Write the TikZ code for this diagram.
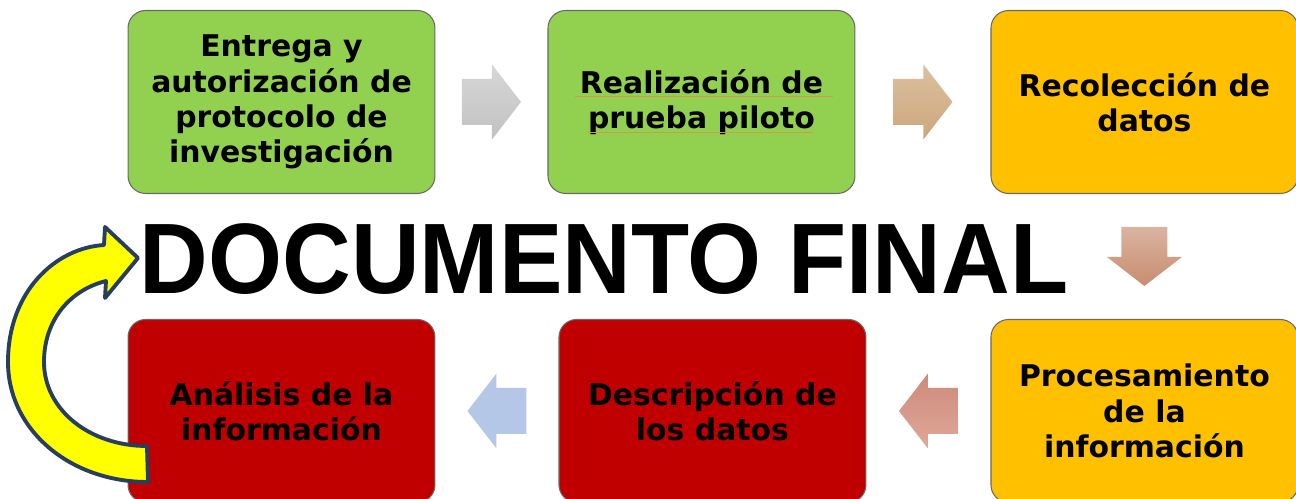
\documentclass[tikz,border=0pt]{standalone}
\usepackage{fontspec}
\setmainfont{DejaVu Sans}
\newfontfamily\titlefont{Liberation Sans}
\usetikzlibrary{
  calc,
  positioning
}
\definecolor{stepgreen}{RGB}{146,208,80}
\definecolor{stepyellow}{RGB}{255,192,0}
\definecolor{stepred}{RGB}{192,0,0}
\definecolor{stepedge}{RGB}{105,105,105}
\definecolor{loopyellow}{RGB}{255,255,0}
\definecolor{loopnavy}{RGB}{40,62,96}
\definecolor{spellline}{RGB}{215,150,80}
\definecolor{tanlight}{RGB}{220,192,160}
\definecolor{tandark}{RGB}{204,166,122}
\definecolor{clay}{RGB}{218,180,160}
\definecolor{claydark}{RGB}{200,140,112}
\definecolor{rose}{RGB}{222,168,152}
\definecolor{rosedark}{RGB}{206,138,122}
\definecolor{paleblue}{RGB}{180,199,231}
\tikzset{
  stepBox/.style={
    rectangle,
    rounded corners=10pt,
    draw=stepedge,
    line width=0.6pt,
    minimum width=6.14cm,
    minimum height=3.66cm,
    inner sep=0pt,
    align=center,
    font=\bfseries\fontsize{17}{20}\selectfont
  },
  blockArrow/.pic={
    \path[pic actions]
      (-29.5,-23) -- (0.5,-23) -- (0.5,-37.5) -- (29.5,0)
      -- (0.5,37.5) -- (0.5,23) -- (-29.5,23) -- cycle;
  },
  loopArrow/.style={
    fill=loopyellow,
    draw=loopnavy,
    line width=2.2pt,
    line join=round
  }
}

\begin{document}
\begin{tikzpicture}[x=0.02cm, y=-0.02cm]
  \useasboundingbox (0,0) rectangle (1296,499);

  \node[stepBox, fill=stepgreen] (entrega) at (281.5,102)
    {Entrega y\\autorización de\\protocolo de\\investigación};

  \node[stepBox, fill=stepgreen, right=2.24cm of entrega]
    (piloto) {Realización de\\prueba piloto};

  \node[stepBox, fill=stepyellow, right=2.7cm of piloto]
    (recoleccion) {Recolección de\\datos};

  \node[stepBox, fill=stepyellow, below=2.5cm of recoleccion]
    (procesamiento) {Procesamiento\\de la\\información};

  \node[stepBox, fill=stepred, left=2.48cm of procesamiento]
    (descripcion) {Descripción de\\los datos};

  \node[stepBox, fill=stepred, left=2.46cm of descripcion]
    (analisis) {Análisis de la\\información};

  % spell-check lines under the second box
  \draw[spellline, line width=0.5pt]
    ($(piloto.center)+(-126,-6)$) -- ($(piloto.center)+(132,-6)$);
  \draw[spellline, line width=0.5pt]
    ($(piloto.center)+(-113,30)$) -- ($(piloto.center)+(112,30)$);

  % block arrows between the steps
  \pic[top color=black!16, bottom color=black!24]
    (a1) at ($(entrega.east)!0.5!(piloto.west)$) {blockArrow};
  \pic[top color=tanlight, bottom color=tandark]
    (a2) at ($(piloto.east)!0.5!(recoleccion.west)$) {blockArrow};
  \pic[rotate=-90, top color=clay, bottom color=claydark]
    (a3) at ($(recoleccion.south)!0.5!(procesamiento.north)$) {blockArrow};
  \pic[rotate=180, bottom color=rose, top color=rosedark]
    (a4) at ($(procesamiento.west)!0.5!(descripcion.east)$) {blockArrow};
  \pic[rotate=180, fill=paleblue]
    (a5) at ($(descripcion.west)!0.5!(analisis.east)$) {blockArrow};

  \node[inner sep=0pt] (final) at (604,259)
    {\scalebox{0.95}[1]{\titlefont\bfseries\fontsize{57}{60}\selectfont DOCUMENTO FINAL}};

  % curved arrow back to the final document
  \draw[loopArrow]
    (148,482) .. controls (70,482) and (8,430) .. (8,362)
    .. controls (8,292) and (55,248) .. (104,245)
    -- (105,227) -- (138,258) -- (105,298) -- (106,281)
    .. controls (70,290) and (44,320) .. (44,362)
    .. controls (44,410) and (90,446) .. (147,446) -- cycle;
\end{tikzpicture}
\end{document}
